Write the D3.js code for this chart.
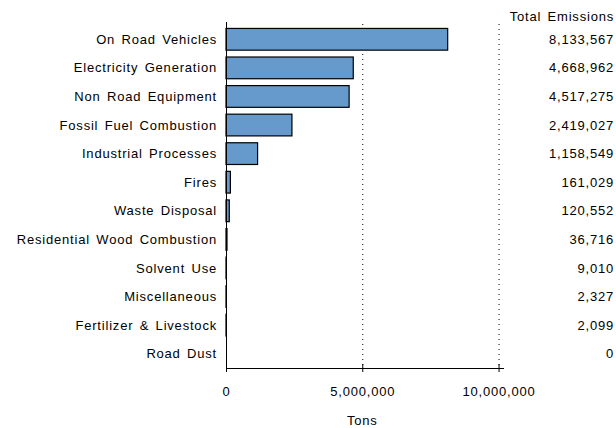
<!DOCTYPE html>
<html>
<head>
<meta charset="utf-8">
<script src="https://cdn.jsdelivr.net/npm/d3@7"></script>
<style>
  body { margin: 0; background: #fff; }
  text { font-family: "Liberation Sans", Arial, sans-serif; font-size: 13px; letter-spacing: 0.8px; word-spacing: 2px; fill: #000; }
</style>
</head>
<body>
<div id="chart"></div>
<script>
var categories = [
    "On Road Vehicles", "Electricity Generation", "Non Road Equipment",
    "Fossil Fuel Combustion", "Industrial Processes", "Fires", "Waste Disposal",
    "Residential Wood Combustion", "Solvent Use", "Miscellaneous",
    "Fertilizer & Livestock", "Road Dust"
];
var emissions = [8133567, 4668962, 4517275, 2419027, 1158549, 161029, 120552, 36716, 9010, 2327, 2099, 0];
var xTicks = [0, 5000000, 10000000];

var svg = d3.select("#chart")
    .append("svg")
    .attr("width", 616)
    .attr("height", 428);

var x = d3.scaleLinear()
    .domain([0, 10200000])
    .range([226, 504]);

var y = d3.scaleBand()
    .domain(categories)
    .range([25, 368])
    .paddingInner(0.24)
    .paddingOuter(0.12);

var fmt = d3.format(",");

// dotted reference lines
svg.selectAll("line.grid")
    .data(xTicks.slice(1))
    .enter()
    .append("line")
    .attr("class", "grid")
    .attr("x1", function(d){return x(d) + 0.5})
    .attr("x2", function(d){return x(d) + 0.5})
    .attr("y1", 24)
    .attr("y2", 368)
    .attr("stroke", "#000")
    .attr("stroke-width", 1)
    .attr("stroke-dasharray", "1,4");

svg.selectAll("rect.bar")
    .data(emissions)
    .enter()
    .append("rect")
    .attr("class", "bar")
    .attr("x", x(0))
    .attr("y", function(d, i){return y(categories[i])})
    .attr("width", function(d){return Math.max(0, x(d) - x(0))})
    .attr("height", y.bandwidth())
    .attr("fill", "#6699cc")
    .attr("stroke", "#000")
    .attr("stroke-width", function(d){return d > 0 ? 1.2 : 0});

// category labels
svg.selectAll("text.cat")
    .data(categories)
    .enter()
    .append("text")
    .attr("class", "cat")
    .attr("x", 217)
    .attr("y", function(d){return y(d) + y.bandwidth() / 2})
    .attr("dy", "0.35em")
    .attr("text-anchor", "end")
    .text(function(d){return d});

// total emissions column
svg.append("text")
    .attr("x", 614)
    .attr("y", 16)
    .attr("dy", "0.35em")
    .attr("text-anchor", "end")
    .text("Total Emissions");

svg.selectAll("text.total")
    .data(emissions)
    .enter()
    .append("text")
    .attr("class", "total")
    .attr("x", 614)
    .attr("y", function(d, i){return y(categories[i]) + y.bandwidth() / 2})
    .attr("dy", "0.35em")
    .attr("text-anchor", "end")
    .text(function(d){return fmt(d)});

// y axis line
svg.append("line")
    .attr("x1", x(0) + 0.5)
    .attr("x2", x(0) + 0.5)
    .attr("y1", 22)
    .attr("y2", 368)
    .attr("stroke", "#000");

// x axis
var xAxis = svg.append("g")
    .attr("transform", "translate(0,368)")
    .call(d3.axisBottom(x).tickValues(xTicks).tickFormat(fmt).tickSize(5).tickPadding(14));
xAxis.select(".domain").attr("d", "M" + x(0) + ",0.5H" + x.range()[1]).attr("stroke", "#000");
xAxis.selectAll(".tick line").attr("y1", -4).attr("y2", 4);
xAxis.selectAll(".tick text")
    .style("font-family", "'Liberation Sans', Arial, sans-serif")
    .style("font-size", "13px")
    .style("letter-spacing", "0.8px");

svg.append("text")
    .attr("x", x(5000000))
    .attr("y", 420)
    .attr("dy", "0.35em")
    .attr("text-anchor", "middle")
    .text("Tons");
</script>
</body>
</html>
